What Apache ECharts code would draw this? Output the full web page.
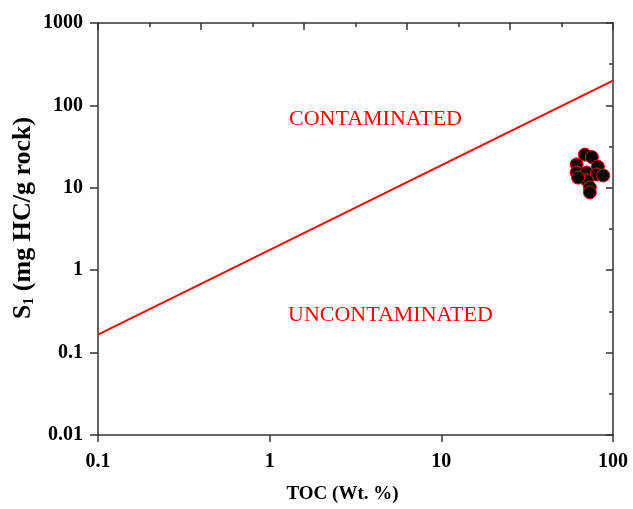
<!DOCTYPE html>
<html>
<head>
<meta charset="utf-8">
<script src="https://cdn.jsdelivr.net/npm/echarts@6/dist/echarts.min.js"></script>
<style>html,body{margin:0;padding:0;background:#fff}#c{width:633px;height:509px}</style>
</head>
<body>
<div id="c"></div>
<script>
// Data
const xTickLabels = ['0.1', '1', '10', '100'];
const yTickLabels = ['0.01', '0.1', '1', '10', '100', '1000'];
const boundaryLine = [[0.1, 0.165], [100, 200]];
const tocValues = [68.6, 75.3, 61.4, 81.6, 61.4, 70.2, 80.3, 87.7, 70.5, 62.6, 73.3, 73.3];
const s1Values  = [25.3, 23.6, 19.2, 18.1, 15.3, 15.3, 14.5, 14.1, 12.3, 13.3, 10.1, 8.8];
const regionLabels = ['CONTAMINATED', 'UNCONTAMINATED'];

const FONT = "'Liberation Serif', 'Times New Roman', serif";
const AX = '#333';
const points = tocValues.map((v, i) => [v, s1Values[i]]);

function fmt(v) {
  return Number(v.toPrecision(3)).toString();
}

const chart = echarts.init(document.getElementById('c'), null, {renderer: 'canvas'});
chart.setOption({
  backgroundColor: '#fff',
  animation: false,
  grid: {left: 98, right: 20, top: 23, bottom: 72, containLabel: false},
  xAxis: [{
    type: 'log', logBase: 10, min: 0.1, max: 100, position: 'bottom',
    name: 'TOC (Wt. %)', nameLocation: 'middle', nameGap: 50,
    nameTextStyle: {fontFamily: FONT, fontWeight: 'bold', fontSize: 19, color: '#000', padding: [0, 26, 0, 0]},
    axisLine: {lineStyle: {color: AX, width: 1.5}},
    axisTick: {show: true, inside: false, length: 7, lineStyle: {color: AX, width: 1.5}},
    axisLabel: {fontFamily: FONT, fontWeight: 'bold', fontSize: 20, color: '#000', margin: 17,
      formatter: v => fmt(v)},
    splitLine: {show: false}, minorTick: {show: false}
  }, {
    type: 'value', min: 0, max: 5, interval: 1, position: 'top',
    axisLine: {show: true, lineStyle: {color: AX, width: 1.5}},
    axisTick: {show: true, inside: true, length: 7, lineStyle: {color: AX, width: 1.5}},
    minorTick: {show: true, splitNumber: 2, length: 4, lineStyle: {color: AX, width: 1.5}},
    axisLabel: {show: false}, splitLine: {show: false}
  }],
  yAxis: [{
    type: 'log', logBase: 10, min: 0.01, max: 1000, position: 'left',
    axisLine: {lineStyle: {color: AX, width: 1.5}},
    axisTick: {show: true, inside: false, length: 8, lineStyle: {color: AX, width: 1.5}},
    axisLabel: {fontFamily: FONT, fontWeight: 'bold', fontSize: 20, color: '#000', margin: 15,
      formatter: v => fmt(v)},
    splitLine: {show: false}, minorTick: {show: false}
  }, {
    type: 'value', min: 0, max: 5, interval: 1, position: 'right',
    axisLine: {show: true, lineStyle: {color: AX, width: 1.5}},
    axisTick: {show: true, inside: true, length: 7, lineStyle: {color: AX, width: 1.5}},
    minorTick: {show: true, splitNumber: 2, length: 4, lineStyle: {color: AX, width: 1.5}},
    axisLabel: {show: false}, splitLine: {show: false}
  }],
  series: [{
    type: 'line', xAxisIndex: 0, yAxisIndex: 0, data: boundaryLine,
    showSymbol: false, lineStyle: {color: '#ff0000', width: 2}, silent: true
  }, {
    type: 'scatter', xAxisIndex: 0, yAxisIndex: 0, data: points,
    symbol: 'circle', symbolSize: 13,
    itemStyle: {color: '#000', borderColor: '#ff0000', borderWidth: 1, opacity: 1}
  }],
  graphic: [{
    type: 'text', left: 289, top: 108,
    style: {text: regionLabels[0], fill: '#ff0000', font: '22px ' + FONT}
  }, {
    type: 'text', left: 288, top: 304,
    style: {text: regionLabels[1], fill: '#ff0000', font: '22px ' + FONT}
  }, {
    type: 'text', x: 23, y: 218, rotation: Math.PI / 2,
    style: {
      text: '{a|S}{b|1}{a| (mg HC/g rock)}',
      align: 'center', verticalAlign: 'middle',
      rich: {
        a: {fontFamily: FONT, fontWeight: 'bold', fontSize: 26, fill: '#000'},
        b: {fontFamily: FONT, fontWeight: 'bold', fontSize: 14, fill: '#000', padding: [13, 0, 0, 0]}
      }
    }
  }]
});
</script>
</body>
</html>
